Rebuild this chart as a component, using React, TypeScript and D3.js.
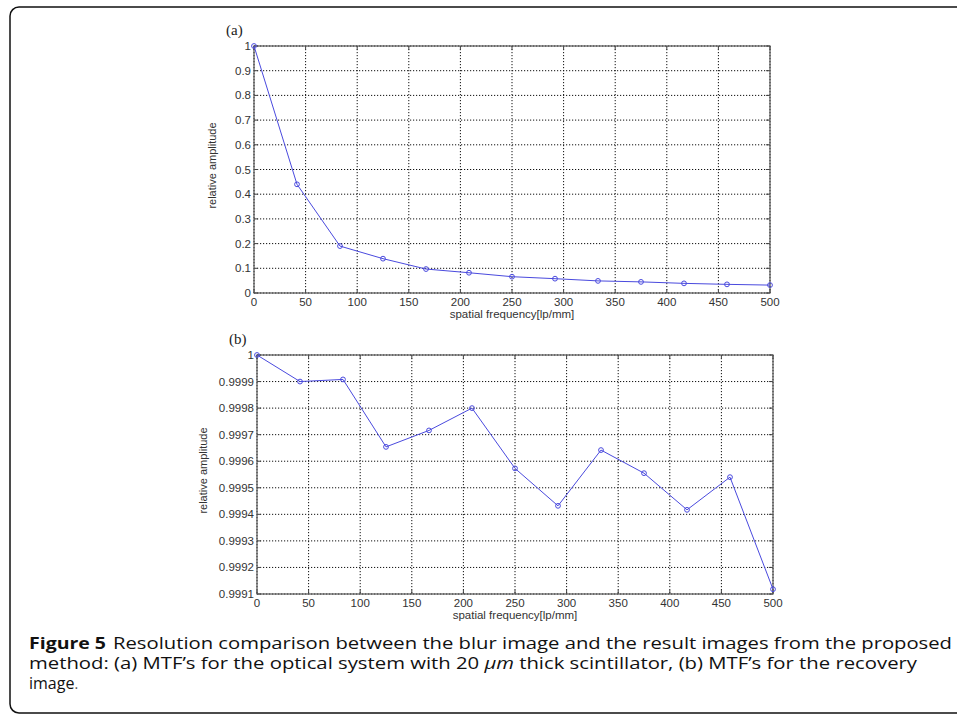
import React from "react";
import * as d3 from "d3";

// spatial frequency samples [lp/mm]
const freq = [0, 41.67, 83.33, 125, 166.67, 208.33, 250, 291.67, 333.33, 375, 416.67, 458.33, 500];
// (a) MTF of the optical system, 20um scintillator
const mtfBlur = [1, 0.44, 0.19, 0.139, 0.097, 0.082, 0.066, 0.058, 0.049, 0.045, 0.039, 0.035, 0.032];
// (b) MTF of the recovery image
const mtfRecovery = [1, 0.9999, 0.999908, 0.999654, 0.999716, 0.9998, 0.999573, 0.999432, 0.999642, 0.999555, 0.999417, 0.99954, 0.999118];

const xTicks = [0, 50, 100, 150, 200, 250, 300, 350, 400, 450, 500];
const yTicksA = [0, 0.1, 0.2, 0.3, 0.4, 0.5, 0.6, 0.7, 0.8, 0.9, 1];
const yTicksB = [0.9991, 0.9992, 0.9993, 0.9994, 0.9995, 0.9996, 0.9997, 0.9998, 0.9999, 1];

const captionHead = "Figure 5";
const captionLine1 = "Resolution comparison between the blur image and the result images from the proposed";

const lineColor = "#4a4ade";
const tickFont = "Liberation Sans, Arial, sans-serif";

type PanelProps = {
  tag: string;
  left: number;
  right: number;
  top: number;
  bottom: number;
  yDomain: [number, number];
  yTicks: number[];
  values: number[];
  yLabelX: number;
};

function Panel({ tag, left, right, top, bottom, yDomain, yTicks, values, yLabelX }: PanelProps) {
  const x = d3.scaleLinear().domain([0, 500]).range([left, right]);
  const y = d3.scaleLinear().domain(yDomain).range([bottom, top]);
  const fmt = (d: number) => String(+d.toFixed(4));

  const line = d3
    .line<number>()
    .x((d, i) => x(freq[i]))
    .y((d) => y(d));

  return (
    <g>
      <text x={left - 28} y={top - 11} fontFamily="Liberation Serif, Times New Roman, serif" fontSize={15} fill="#222">
        {tag}
      </text>
      <rect x={left} y={top} width={right - left} height={bottom - top} fill="#fff" />
      {/* grid */}
      {xTicks.map((t) => (
        <line key={"gx" + t} x1={x(t)} x2={x(t)} y1={top} y2={bottom} stroke="#111" strokeWidth={1} strokeDasharray="1.2,1.8" />
      ))}
      {yTicks.map((t) => (
        <line key={"gy" + t} x1={left} x2={right} y1={y(t)} y2={y(t)} stroke="#111" strokeWidth={1} strokeDasharray="1.2,1.8" />
      ))}
      {/* inward ticks */}
      {xTicks.map((t) => (
        <g key={"tx" + t} stroke="#444">
          <line x1={x(t)} x2={x(t)} y1={bottom} y2={bottom - 4} />
          <line x1={x(t)} x2={x(t)} y1={top} y2={top + 4} />
        </g>
      ))}
      {yTicks.map((t) => (
        <g key={"ty" + t} stroke="#444">
          <line x1={left} x2={left + 4} y1={y(t)} y2={y(t)} />
          <line x1={right} x2={right - 4} y1={y(t)} y2={y(t)} />
        </g>
      ))}
      <rect x={left} y={top} width={right - left} height={bottom - top} fill="none" stroke="#555" strokeWidth={1.2} />
      {/* tick labels */}
      {xTicks.map((t) => (
        <text key={"lx" + t} x={x(t)} y={bottom + 13} textAnchor="middle" fontFamily={tickFont} fontSize={11.5} fill="#333">
          {t}
        </text>
      ))}
      {yTicks.map((t) => (
        <text key={"ly" + t} x={left - 3} y={y(t) + 4} textAnchor="end" fontFamily={tickFont} fontSize={11.5} fill="#333">
          {fmt(t)}
        </text>
      ))}
      <text x={(left + right) / 2} y={bottom + 25} textAnchor="middle" fontFamily={tickFont} fontSize={11.5} fill="#333">
        spatial frequency[lp/mm]
      </text>
      <text
        transform={`translate(${yLabelX},${(top + bottom) / 2 - 4}) rotate(-90)`}
        textAnchor="middle"
        fontFamily={tickFont}
        fontSize={11}
        fill="#333"
      >
        relative amplitude
      </text>
      {/* series */}
      <path d={line(values) || ""} fill="none" stroke={lineColor} strokeWidth={1} />
      {values.map((v, i) => (
        <circle key={"m" + i} cx={x(freq[i])} cy={y(v)} r={2.4} fill="none" stroke={lineColor} strokeWidth={1} />
      ))}
    </g>
  );
}

export default function App() {
  const capFont = "Open Sans, Noto Sans, sans-serif";
  return (
    <svg width={957} height={715} style={{ position: "absolute", left: 0, top: 0, background: "#fff" }}>
      <rect x={10} y={7} width={1000} height={706} rx={9} fill="#fff" stroke="#111" strokeWidth={1.5} />
      <Panel tag="(a)" left={254} right={770} top={46} bottom={293} yDomain={[0, 1]} yTicks={yTicksA} values={mtfBlur} yLabelX={216} />
      <Panel tag="(b)" left={257} right={773} top={355} bottom={594} yDomain={[0.9991, 1]} yTicks={yTicksB} values={mtfRecovery} yLabelX={207} />
      <text x={29} y={649} fontFamily={capFont} fontSize={16} fontWeight={700} fill="#111" textLength={77} lengthAdjust="spacingAndGlyphs">
        {captionHead}
      </text>
      <text x={113} y={649} fontFamily={capFont} fontSize={16} fill="#111" textLength={839} lengthAdjust="spacingAndGlyphs">
        {captionLine1}
      </text>
      <text x={29} y={669} fontFamily={capFont} fontSize={16} fill="#111" textLength={888} lengthAdjust="spacingAndGlyphs">
        method: (a) MTF’s for the optical system with 20 <tspan fontStyle="italic">μm</tspan> thick scintillator, (b) MTF’s for the recovery
      </text>
      <text x={29} y={689} fontFamily={capFont} fontSize={16} fill="#111">
        image<tspan fill="#555" fontSize={14}>.</tspan>
      </text>
    </svg>
  );
}
